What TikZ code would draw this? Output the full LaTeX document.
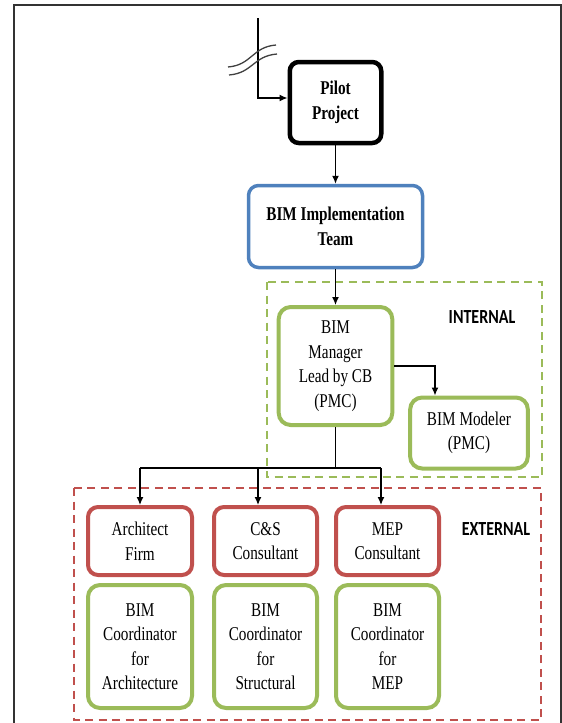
\documentclass[tikz,border=0pt]{standalone}
\usepackage{fontspec}
\setmainfont{Liberation Serif}
\newfontfamily\serifc[FakeStretch=0.78]{Liberation Serif}
\newfontfamily\sansc[FakeStretch=0.8]{Carlito}
\usetikzlibrary{arrows.meta,calc}
\definecolor{cblue}{HTML}{4F81BD}
\definecolor{cgreen}{HTML}{9BBB59}
\definecolor{cred}{HTML}{C0504D}
\begin{document}
\begin{tikzpicture}[x=1pt,y=-1pt,
  box/.style={draw, rounded corners=10pt, fill=white, inner sep=0pt, align=center,
    font=\serifc\fontsize{19.5}{24.5}\selectfont},
  pilotbox/.style={box, line width=4.5pt, draw=black, rounded corners=9pt,
    font=\serifc\bfseries\fontsize{19.5}{24.5}\selectfont},
  implbox/.style={box, line width=3.5pt, draw=cblue,
    font=\serifc\bfseries\fontsize{19.5}{24.5}\selectfont},
  gbox/.style={box, line width=4pt, draw=cgreen, rounded corners=12pt},
  rbox/.style={box, line width=4pt, draw=cred},
  gdash/.style={draw=cgreen, line width=2.2pt, dash pattern=on 8pt off 5.5pt},
  rdash/.style={draw=cred, line width=2.2pt, dash pattern=on 8pt off 5.5pt},
  lab/.style={inner sep=0pt, font=\sansc\bfseries\fontsize{20}{24}\selectfont},
  conn/.style={draw=black, line width=1.3pt},
  arr/.style={conn, -{Latex[length=8pt,width=7pt]}},
  brk/.style={draw=black!75, line width=1.3pt},
  frame/.style={draw=black!80, line width=1.6pt}
]
\useasboundingbox (0,0) rectangle (562,723);
\draw[frame] (14,723) -- (14,5) -- (561,5) -- (561,723);

% group frames
\draw[gdash] (267,282) rectangle (542,477);
\draw[rdash] (74,488) rectangle (541,720);

% nodes
\node[pilotbox, minimum width=91.5pt, minimum height=81pt] (pilot) at (335.5,102.5) {Pilot\\Project};
\node[implbox, minimum width=174pt, minimum height=82pt] (impl) at (335.5,226.5) {BIM Implementation\\Team};
\node[gbox, minimum width=113.6pt, minimum height=118pt] (mgr) at (335.5,366) {BIM\\Manager\\Lead by CB\\(PMC)};
\node[gbox, minimum width=117.7pt, minimum height=71pt] (mod) at (469,433) {BIM Modeler\\(PMC)};

\node[rbox, minimum width=104pt, minimum height=68pt] (arch) at (140,541) {Architect\\Firm};
\node[rbox, minimum width=103pt, minimum height=68pt] (cs) at (265.5,541) {C\&S\\Consultant};
\node[rbox, minimum width=103pt, minimum height=68pt] (mep) at (387.5,541) {MEP\\Consultant};

\node[gbox, minimum width=104pt, minimum height=123pt] (carch) at (140,646.5) {BIM\\Coordinator\\for\\Architecture};
\node[gbox, minimum width=103pt, minimum height=123pt] (ccs) at (265.5,646.5) {BIM\\Coordinator\\for\\Structural};
\node[gbox, minimum width=103pt, minimum height=123pt] (cmep) at (387.5,646.5) {BIM\\Coordinator\\for\\MEP};

\node[lab] (int) at (482,317) {INTERNAL};
\node[lab] (ext) at (496,529) {EXTERNAL};

% break symbol and incoming connector
\coordinate (src) at (258,18);
\coordinate (y98) at (0,98);
\draw[arr] (src) |- (pilot.west |- y98);
\draw[brk] (228,67) .. controls (252,65) and (252,47) .. (276,45);
\draw[brk] (229,75) .. controls (253,73) and (253,56) .. (277,54);

% connectors
\draw[arr] (pilot.south) -- (impl.north);
\draw[arr] (impl.south) -- (mgr.north);
\coordinate (mx) at (435,0);
\draw[arr] (mgr.east) -| (mx |- mod.north);

\coordinate (bus) at (335.5,468);
\coordinate (b1) at (140,468);
\coordinate (b2) at (258,468);
\coordinate (b3) at (381,468);
\draw[conn] (mgr.south) -- (bus);
\draw[conn] (b1) -- (b3);
\draw[arr] (b1) -- (arch.north);
\draw[arr] (b2) -- (b2 |- cs.north);
\draw[arr] (b3) -- (b3 |- mep.north);
\end{tikzpicture}
\end{document}
